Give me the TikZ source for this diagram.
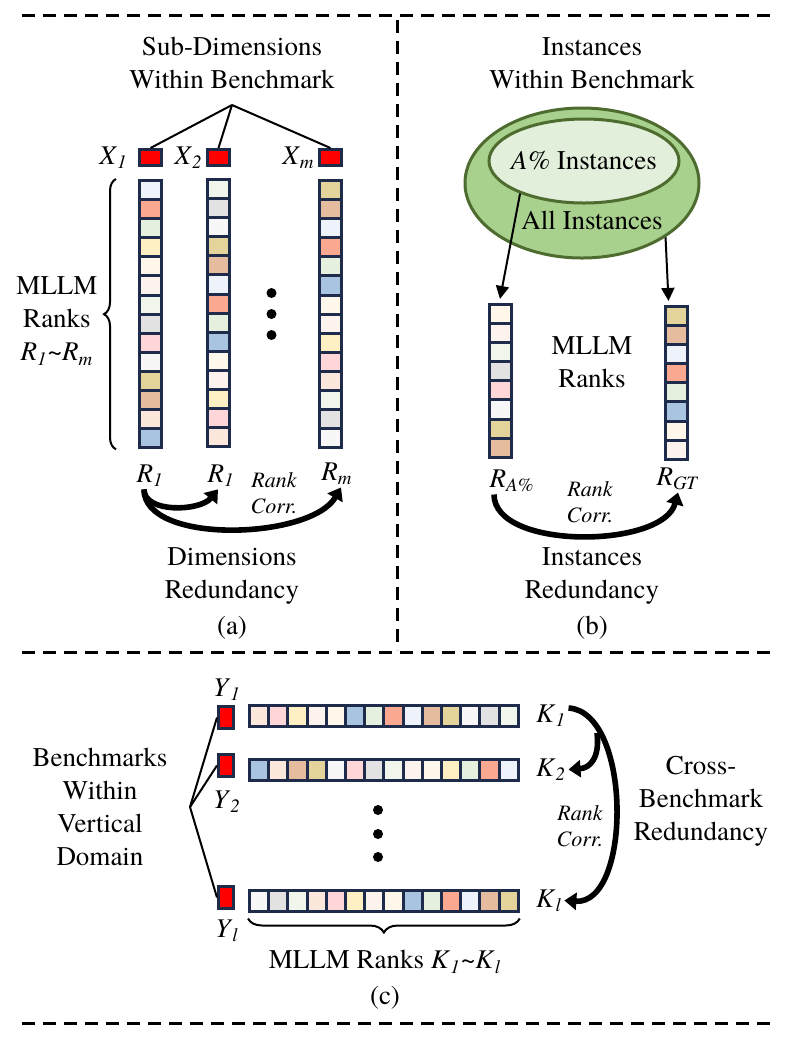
\documentclass[tikz,border=0pt]{standalone}
\usepackage{fontspec}
\setmainfont{texgyretermes}[Extension=.otf,UprightFont=*-regular,ItalicFont=*-italic,BoldFont=*-bold,BoldItalicFont=*-bolditalic]
\usetikzlibrary{positioning}
\usetikzlibrary{shapes.geometric}
\usetikzlibrary{arrows.meta}
\usetikzlibrary{decorations.pathreplacing}
\definecolor{navy}{HTML}{1F2B4A}
\definecolor{iceblue}{HTML}{EEF2FA}
\definecolor{salmon}{HTML}{FAA890}
\definecolor{lgreen}{HTML}{E6F0DE}
\definecolor{lyellow}{HTML}{FFF0C4}
\definecolor{cream}{HTML}{FFF8EA}
\definecolor{linen}{HTML}{FCF3EE}
\definecolor{mint}{HTML}{F1F6EC}
\definecolor{lgray}{HTML}{E2E2E2}
\definecolor{pinkish}{HTML}{FFD6D8}
\definecolor{wgray}{HTML}{F7F7F7}
\definecolor{khaki}{HTML}{E4D49C}
\definecolor{rtan}{HTML}{E6BC9E}
\definecolor{peach}{HTML}{FCE7DC}
\definecolor{steel}{HTML}{A8C4E0}
\definecolor{setgreen}{HTML}{A9D18E}
\definecolor{subgreen}{HTML}{E2EFDA}
\definecolor{edgegreen}{HTML}{4E6B30}
\newcommand{\sub}[2]{\textit{#1}\textsubscript{\textit{#2}}}
\newcommand{\rankcol}[4]{%
	\foreach \cc [count=\i] in {#4}
	\node[vcell,fill=\cc] (#1-\i) at (#2,{#3+(\i-1)*19.1}) {};}
\newcommand{\rankrow}[4]{%
	\foreach \cc [count=\i] in {#4}
	\node[hcell,fill=\cc] (#1-\i) at ({#2+(\i-1)*19.2},#3) {};}

\begin{document}
\begin{tikzpicture}[x=0.5pt,y=-0.5pt,
		txt/.style={font=\fontsize{13.5}{16.5}\selectfont,align=center,inner sep=0pt},
		lbl/.style={font=\fontsize{13.5}{16.5}\selectfont,inner sep=1pt},
		corr/.style={font=\fontsize{11}{13}\selectfont\itshape,align=center,inner sep=0pt},
		vcell/.style={rectangle,draw=navy,line width=1.5pt,minimum width=11pt,minimum height=9.55pt,inner sep=0pt},
		hcell/.style={rectangle,draw=navy,line width=1.5pt,minimum width=9.6pt,minimum height=10.5pt,inner sep=0pt},
		xbox/.style={rectangle,draw=navy,fill=red,line width=1.5pt,minimum width=11pt,minimum height=8pt,inner sep=0pt},
		ybox/.style={rectangle,draw=navy,fill=red,line width=1.5pt,minimum width=7.5pt,minimum height=11pt,inner sep=0pt},
		dotnode/.style={circle,fill=black,minimum size=5pt,inner sep=0pt},
		setell/.style={ellipse,draw=edgegreen,line width=1.5pt,inner sep=0pt},
		frameline/.style={line width=1.5pt,dash pattern=on 6.5pt off 4pt},
		fanline/.style={line width=1pt},
		thinarrow/.style={line width=1pt,-{Triangle[length=6.5pt,width=6.5pt]}},
		corrarrow/.style={line width=2.8pt,-{Triangle[length=6pt,width=8.5pt]}},
		rankbrace/.style={decorate,decoration={brace,amplitude=#1},line width=1pt},
		rankbrace/.default=6pt
		]
		\useasboundingbox (0,0) rectangle (792,1041);
		\draw[frameline] (22,15) -- (770,15);
		\draw[frameline] (22,652) -- (770,652);
		\draw[frameline] (22,1023) -- (770,1023);
		\draw[frameline] (397,20) -- (397,650);
		
		% (a)
		\node[txt] (dimtitle) at (232,63) {Sub-Dimensions\\Within Benchmark};
		\coordinate (dimfan) at (232,105);
		\node[xbox] (xa) at (150.5,157.5) {};
		\node[xbox] (xb) at (218.5,157.5) {};
		\node[xbox] (xm) at (330.5,157.5) {};
		\node[lbl,left=4pt of xa] (xalbl) {\sub{X}{1}};
		\node[lbl,left=0.5pt of xb] (xblbl) {\sub{X}{2}};
		\node[lbl,left=0.5pt of xm] (xmlbl) {\sub{X}{m}};
		\draw[fanline] (dimfan) -- (xa.north);
		\draw[fanline] (dimfan) -- (xb.north);
		\draw[fanline] (dimfan) -- (xm.north);
		\rankcol{cola}{150.5}{190}{iceblue,salmon,lgreen,lyellow,cream,linen,mint,lgray,pinkish,wgray,khaki,rtan,peach,steel}
		\rankcol{colb}{218.5}{189}{mint,lgray,wgray,khaki,rtan,iceblue,salmon,lgreen,steel,cream,linen,lyellow,pinkish,peach}
		\rankcol{colm}{330.5}{190}{khaki,rtan,iceblue,salmon,lgreen,steel,cream,linen,lyellow,pinkish,peach,mint,lgray,wgray}
		\node[dotnode] (dima) at (271.5,293) {};
		\node[dotnode] (dimb) at (271.5,314) {};
		\node[dotnode] (dimc) at (271.5,335) {};
		\draw[rankbrace] ([xshift=-11pt]cola-14.south west) -- ([xshift=-11pt]cola-1.north west);
		\node[txt] (dimranks) at (57,321) {MLLM\\Ranks\\\sub{R}{1}\textasciitilde\sub{R}{m}};
		\node[lbl] (r1) at (150,476) {\sub{R}{1}};
		\node[lbl] (r2) at (221,476) {\sub{R}{1}};
		\node[lbl] (rm) at (337,474) {\sub{R}{m}};
		\node[corr] (dimcorr) at (274,493) {Rank\\Corr.};
		\draw[corrarrow] ([xshift=-3pt]r1.south) .. controls +(0,24) and +(-18,22) .. ([xshift=-1.5pt]r2.south);
		\draw[corrarrow] ([xshift=-3pt]r1.south) .. controls +(0,56) and +(-30,52) .. ([xshift=2pt]rm.south);
		\node[txt] (dimred) at (232,576) {Dimensions\\Redundancy};
		\node[txt] (capa) at (232,628) {(a)};
		
		% (b)
		\node[txt] (insttitle) at (592,63) {Instances\\Within Benchmark};
		\node[setell,fill=setgreen,minimum width=117pt,minimum height=75pt] (allset) at (582,183) {};
		\node[setell,fill=subgreen,minimum width=95pt,minimum height=42pt] (aset) at (584,161) {};
		\node[txt] (atxt) at (584,161) {\textit{A\%} Instances};
		\node[txt] (alltxt) at (592,220) {All Instances};
		\rankcol{colp}{500}{314}{cream,linen,mint,lgray,pinkish,wgray,khaki,rtan}
		\rankcol{colg}{676.5}{316}{khaki,rtan,iceblue,salmon,lgreen,steel,cream,linen}
		\draw[thinarrow] (aset.207) -- ([yshift=2pt]colp-1.north);
		\draw[thinarrow] (allset.-33) -- ([xshift=-4pt,yshift=2pt]colg-1.north);
		\node[txt] (instranks) at (592,362) {MLLM\\Ranks};
		\node[lbl] (rp) at (512,481) {\sub{R}{A\%}};
		\node[lbl] (rg) at (678,479) {\sub{R}{GT}};
		\node[corr] (instcorr) at (590,502) {Rank\\Corr.};
		\draw[corrarrow] ([xshift=-9pt]rp.south) .. controls +(0,56) and +(-15,56) .. (rg.south);
		\node[txt] (instred) at (592,576) {Instances\\Redundancy};
		\node[txt] (capb) at (592,628) {(b)};
		
		% (c)
		\node[txt] (benchtxt) at (100,807) {Benchmarks\\Within\\Vertical\\Domain};
		\coordinate (benchfan) at (190,807);
		\node[ybox] (ya) at (226,717.5) {};
		\node[ybox] (yb) at (226,765.5) {};
		\node[ybox] (yl) at (226,897.5) {};
		\node[lbl] (yalbl) at (227,690) {\sub{Y}{1}};
		\node[lbl] (yblbl) at (227,802) {\sub{Y}{2}};
		\node[lbl] (yllbl) at (227,931) {\sub{Y}{l}};
		\draw[fanline] (benchfan) -- (ya.west);
		\draw[fanline] (benchfan) -- (yb.west);
		\draw[fanline] (benchfan) -- (yl.west);
		\rankrow{rowa}{259.1}{716}{peach,pinkish,lyellow,linen,cream,steel,lgreen,salmon,iceblue,rtan,khaki,wgray,lgray,mint}
		\rankrow{rowb}{259.1}{769.5}{steel,peach,rtan,khaki,wgray,pinkish,lgray,mint,linen,cream,lyellow,lgreen,salmon,iceblue}
		\rankrow{rowl}{259.1}{900.5}{wgray,lgray,mint,peach,pinkish,lyellow,linen,cream,steel,lgreen,salmon,iceblue,rtan,khaki}
		\node[dotnode] (benda) at (378,810) {};
		\node[dotnode] (bendb) at (378,834) {};
		\node[dotnode] (bendc) at (378,857) {};
		\node[lbl,right=7pt of rowa-14] (k1) {\sub{K}{1}};
		\node[lbl,right=7pt of rowb-14] (k2) {\sub{K}{2}};
		\node[lbl,right=7pt of rowl-14] (kl) {\sub{K}{l}};
		\coordinate (kfork) at (597,733);
		\draw[corrarrow] ([yshift=4pt]k1.east) .. controls (632,712) and (632,905) .. (kl.east);
		\draw[corrarrow] (kfork) .. controls (600,758) and (590,768) .. (k2.east);
		\node[corr] (benchcorr) at (580,826) {Rank\\Corr.};
		\node[txt] (benchred) at (701,801) {Cross-\\Benchmark\\Redundancy};
		\draw[rankbrace=7pt] ([yshift=-3pt]rowl-14.south east) -- ([yshift=-3pt]rowl-1.south west);
		\node[txt] (benchranks) at (385,962) {MLLM Ranks \sub{K}{1}\textasciitilde\sub{K}{l}};
		\node[txt] (capc) at (385,998) {(c)};
\end{tikzpicture}
\end{document}
